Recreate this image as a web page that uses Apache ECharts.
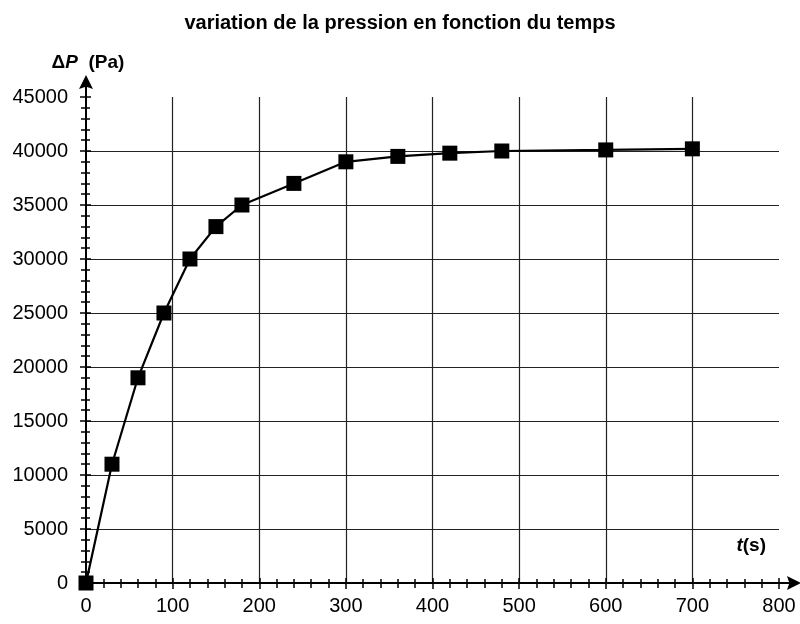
<!DOCTYPE html>
<html>
<head>
<meta charset="utf-8">
<script src="https://cdn.jsdelivr.net/npm/echarts@6/dist/echarts.min.js"></script>
<style>html,body{margin:0;padding:0;background:#fff}#c{width:800px;height:624px}</style>
</head>
<body>
<div id="c"></div>
<script>
// Data
const times = [0, 30, 60, 90, 120, 150, 180, 240, 300, 360, 420, 480, 600, 700];
const pressures = [0, 11000, 19000, 25000, 30000, 33000, 35000, 37000, 39000, 39500, 39800, 40000, 40100, 40200];
const titleText = 'variation de la pression en fonction du temps';
const xTickLabels = ['0', '100', '200', '300', '400', '500', '600', '700', '800'];
const yTickLabels = ['0', '5000', '10000', '15000', '20000', '25000', '30000', '35000', '40000', '45000'];

const FONT = '"Liberation Sans", Arial, Helvetica, sans-serif';
const arrowPath = 'path://M7,0 L14,14 L8,12 L8,22 L6,22 L6,12 L0,14 Z';

const chart = echarts.init(document.getElementById('c'), null, {renderer: 'canvas'});

const baseX = {type: 'value', min: 0, max: 800, interval: 100, gridIndex: 0, position: 'bottom'};
const baseY = {type: 'value', min: 0, max: 45000, interval: 5000, gridIndex: 0, position: 'left'};

chart.setOption({
  animation: false,
  backgroundColor: '#fff',
  title: {
    text: titleText, left: 'center', top: 8,
    textStyle: {fontFamily: FONT, fontSize: 20, fontWeight: 'bold', color: '#000'}
  },
  grid: {left: 86, right: 21, top: 97, bottom: 41, containLabel: false},
  xAxis: [
    Object.assign({}, baseX, {
      name: '{t|t}{s|(s)}',
      nameLocation: 'end',
      nameGap: -13,
      nameTextStyle: {
        align: 'right', verticalAlign: 'bottom', padding: [0, 0, 28, 0],
        rich: {
          t: {fontFamily: FONT, fontSize: 19, fontWeight: 'bold', fontStyle: 'italic', color: '#000'},
          s: {fontFamily: FONT, fontSize: 19, fontWeight: 'bold', color: '#000'}
        }
      },
      axisLine: {show: true, onZero: false, lineStyle: {color: '#000', width: 2},
        symbol: ['none', arrowPath], symbolSize: [14, 22], symbolOffset: [0, 11]},
      axisTick: {show: true, inside: false, length: 6, lineStyle: {color: '#000', width: 1.5}},
      minorTick: {show: true, splitNumber: 5, length: 5, lineStyle: {color: '#000', width: 1.5}},
      axisLabel: {show: true, margin: 13, color: '#000', fontFamily: FONT, fontSize: 20,
        formatter: function (v) { return xTickLabels[Math.round(v / 100)] || ''; }},
      splitLine: {show: true, showMinLine: false, showMaxLine: false, lineStyle: {color: '#222', width: 1.2}}
    }),
    Object.assign({}, baseX, {
      axisLine: {show: false},
      axisTick: {show: true, inside: true, length: 5, lineStyle: {color: '#000', width: 1.5}},
      minorTick: {show: true, splitNumber: 5, length: 4, lineStyle: {color: '#000', width: 1.5}},
      axisLabel: {show: false},
      splitLine: {show: false}
    })
  ],
  yAxis: [
    Object.assign({}, baseY, {
      name: '{d|Δ}{p|P}{u|  (Pa)}',
      nameLocation: 'end',
      nameGap: 25,
      nameTextStyle: {
        align: 'center', verticalAlign: 'bottom', padding: [0, 0, 0, 4],
        rich: {
          d: {fontFamily: FONT, fontSize: 19, fontWeight: 'bold', color: '#000'},
          p: {fontFamily: FONT, fontSize: 19, fontWeight: 'bold', fontStyle: 'italic', color: '#000'},
          u: {fontFamily: FONT, fontSize: 19, fontWeight: 'bold', color: '#000'}
        }
      },
      axisLine: {show: true, onZero: false, lineStyle: {color: '#000', width: 2},
        symbol: ['none', arrowPath], symbolSize: [14, 22], symbolOffset: [0, 11]},
      axisTick: {show: true, inside: false, length: 6, lineStyle: {color: '#000', width: 1.5}},
      minorTick: {show: true, splitNumber: 5, length: 5, lineStyle: {color: '#000', width: 1.5}},
      axisLabel: {show: true, margin: 18, color: '#000', fontFamily: FONT, fontSize: 20,
        formatter: function (v) { return yTickLabels[Math.round(v / 5000)] || ''; }},
      splitLine: {show: true, showMinLine: false, showMaxLine: false, lineStyle: {color: '#222', width: 1.2}}
    }),
    Object.assign({}, baseY, {
      axisLine: {show: false},
      axisTick: {show: true, inside: true, length: 5, lineStyle: {color: '#000', width: 1.5}},
      minorTick: {show: true, splitNumber: 5, length: 4, lineStyle: {color: '#000', width: 1.5}},
      axisLabel: {show: false},
      splitLine: {show: false}
    })
  ],
  series: [{
    type: 'line',
    xAxisIndex: 0, yAxisIndex: 0,
    data: times.map(function (t, i) { return [t, pressures[i]]; }),
    symbol: 'rect', symbolSize: 15,
    itemStyle: {color: '#000'},
    lineStyle: {color: '#000', width: 2.2},
    z: 5
  }]
});
</script>
</body>
</html>
